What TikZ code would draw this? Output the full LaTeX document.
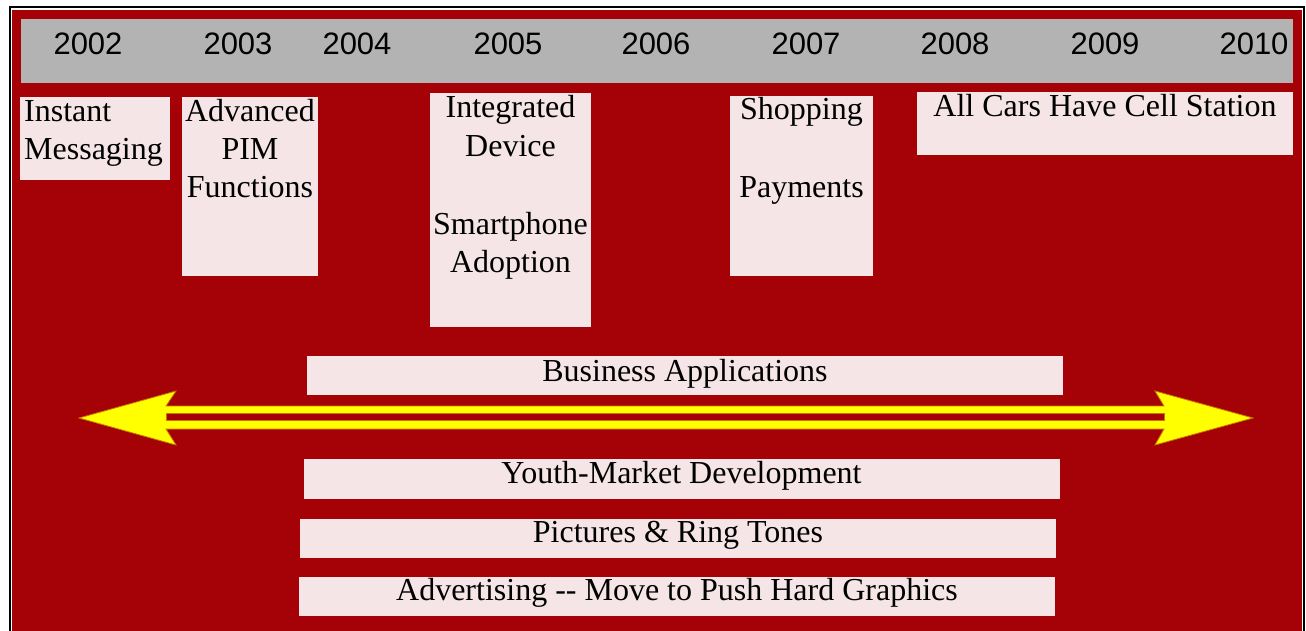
\documentclass[tikz,border=0pt]{standalone}
\usepackage{fontspec}
\setmainfont{Liberation Serif}
\newfontfamily\yearfont{Liberation Sans}
\definecolor{panelred}{RGB}{165,2,8}
\definecolor{bargray}{RGB}{179,179,179}
\definecolor{boxpink}{RGB}{245,229,231}
\definecolor{arrowyellow}{RGB}{255,255,0}
\definecolor{arrowedge}{RGB}{200,120,0}
\tikzset{
  yearlabel/.style={font=\yearfont\fontsize{31}{32}\selectfont, inner sep=0, anchor=base},
  notebox/.style={fill=boxpink, inner sep=0, anchor=north west},
  notetext/.style={font=\fontsize{32}{38}\selectfont, inner sep=0, anchor=base},
}
\begin{document}
\begin{tikzpicture}[x=1pt,y=-1pt]
\useasboundingbox (0,0) rectangle (1306,631);
\fill[white] (0,0) rectangle (1306,631);
% outer frame and red panel
\draw[black, line width=2.2pt] (10,7) rectangle (1304,660);
\fill[panelred] (12,10) rectangle (1302,631);

% year bar
\node (bar) [fill=bargray, inner sep=0, anchor=north west, minimum width=1272pt, minimum height=64pt] at (21,19) {};
\node (y2002) [yearlabel] at (88,55) {2002};
\node (y2003) [yearlabel] at (238,55) {2003};
\node (y2004) [yearlabel] at (357,55) {2004};
\node (y2005) [yearlabel] at (508,55) {2005};
\node (y2006) [yearlabel] at (656,55) {2006};
\node (y2007) [yearlabel] at (806,55) {2007};
\node (y2008) [yearlabel] at (955,55) {2008};
\node (y2009) [yearlabel] at (1105,55) {2009};
\node (y2010) [yearlabel] at (1254,55) {2010};

% milestone boxes
\node (imBox) [notebox, minimum width=150pt, minimum height=83pt] at (20,97) {};
\node (imA) [notetext, anchor=base west] at (24,122) {Instant};
\node (imB) [notetext, anchor=base west] at (24,159.5) {Messaging};

\node (pimBox) [notebox, minimum width=136pt, minimum height=179pt] at (182,97) {};
\node (pimA) [notetext] at (250,122) {Advanced};
\node (pimB) [notetext] at (250,160) {PIM};
\node (pimC) [notetext] at (250,198) {Functions};

\node (intBox) [notebox, minimum width=161pt, minimum height=234pt] at (430,93) {};
\node (intA) [notetext] at (510.5,117.5) {Integrated};
\node (intB) [notetext] at (510.5,156.5) {Device};
\node (intC) [notetext] at (510.5,234) {Smartphone};
\node (intD) [notetext] at (510.5,272.5) {Adoption};

\node (shopBox) [notebox, minimum width=143pt, minimum height=180pt] at (730,96) {};
\node (shopA) [notetext] at (801.5,120) {Shopping};
\node (shopB) [notetext] at (801.5,197) {Payments};

\node (carBox) [notebox, minimum width=376pt, minimum height=63pt] at (917,92) {};
\node (carA) [notetext] at (1105,117) {All Cars Have Cell Station};

% double-line timeline arrow
\filldraw[fill=arrowyellow, draw=arrowedge, line width=0.8pt, line join=miter]
  (79,418) -- (176,391) -- (166,406) -- (1164,406) -- (1155,391) -- (1253,418)
  -- (1155,445) -- (1164,429) -- (166,429) -- (176,445) -- cycle;
\filldraw[fill=panelred, draw=arrowedge, line width=0.8pt]
  (166,413.3) rectangle (1164,420.7);

% long-running themes
\node (busBox) [notebox, minimum width=756pt, minimum height=39pt] at (307,356) {};
\node (busT) [notetext] at (685,381) {Business Applications};

\node (youBox) [notebox, minimum width=756pt, minimum height=40pt] at (304,459) {};
\node (youT) [notetext] at (681.5,483.5) {Youth-Market Development};

\node (picBox) [notebox, minimum width=756pt, minimum height=39pt] at (300,519) {};
\node (picT) [notetext] at (678,542) {Pictures \& Ring Tones};

\node (advBox) [notebox, minimum width=756pt, minimum height=38.5pt] at (299,577) {};
\node (advT) [notetext] at (677,600) {Advertising -{}- Move to Push Hard Graphics};
\end{tikzpicture}
\end{document}
